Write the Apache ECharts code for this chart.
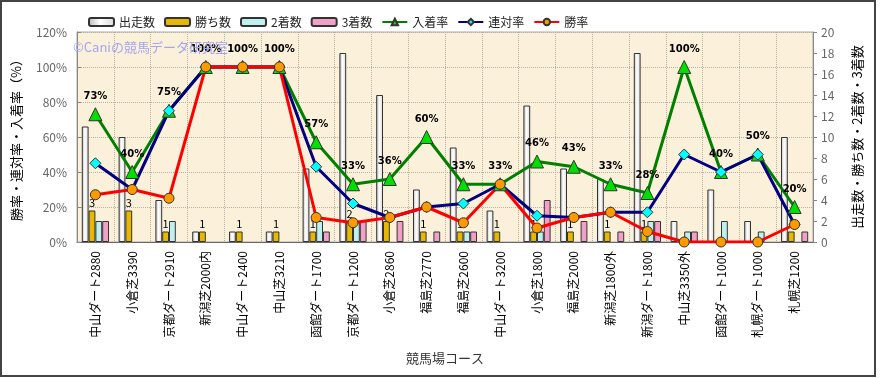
<!DOCTYPE html>
<html>
<head>
<meta charset="utf-8">
<title>競馬場コース別成績</title>
<script src="https://cdn.jsdelivr.net/npm/echarts@6/dist/echarts.min.js"></script>
<style>
  html, body { margin: 0; padding: 0; background: #fff; }
  #main { width: 881px; height: 378px; }
</style>
</head>
<body>
<div id="main"></div>
<script>
// コース名
var courses = ['中山ダート2880', '小倉芝3390', '京都ダート2910', '新潟芝2000内', '中山ダート2400',
  '中山芝3210', '函館ダート1700', '京都ダート1200', '小倉芝2860', '福島芝2770', '福島芝2600',
  '中山ダート3200', '小倉芝1800', '福島芝2000', '新潟芝1800外', '新潟ダート1800',
  '中山芝3350外', '函館ダート1000', '札幌ダート1000', '札幌芝1200'];
// counts (right axis)
var starts = [11, 10, 4, 1, 1, 1, 7, 18, 14, 5, 9, 3, 13, 7, 6, 18, 2, 5, 2, 10];
var wins   = [3, 3, 1, 1, 1, 1, 1, 2, 2, 1, 1, 1, 1, 1, 1, 1, 0, 0, 0, 1];
var second = [2, 0, 2, 0, 0, 0, 2, 2, 0, 0, 1, 0, 1, 0, 0, 2, 1, 2, 1, 0];
var third  = [2, 0, 0, 0, 0, 0, 1, 2, 2, 1, 1, 0, 4, 2, 1, 2, 1, 0, 0, 1];
// rates in % (left axis)
var placeRate = [73, 40, 75, 100, 100, 100, 57, 33, 36, 60, 33, 33, 46, 43, 33, 28, 100, 40, 50, 20];
var quinRate  = [45, 30, 75, 100, 100, 100, 43, 22, 14, 20, 22, 33, 15, 14, 17, 17, 50, 40, 50, 10];
var winRate   = [27, 30, 25, 100, 100, 100, 14, 11, 14, 20, 11, 33, 8, 14, 17, 6, 0, 0, 0, 10];

var font = '"Noto Sans CJK JP", "Noto Sans", sans-serif';
var chart = echarts.init(document.getElementById('main'));

function barSeries(name, data, color, withLabel) {
  return {
    name: name,
    type: 'bar',
    yAxisIndex: 1,
    // zero counts draw no bar at all
    data: data.map(function (v) { return v === 0 ? '-' : v; }),
    barWidth: 6.8,
    barGap: '0%',
    itemStyle: { color: color, borderColor: '#333', borderWidth: 1 },
    label: withLabel ? {
      show: true, position: 'top', distance: 2, color: '#000', fontSize: 11, fontFamily: font
    } : { show: false },
    z: 2
  };
}

function lineSeries(name, data, color, symbol, symColor, size, withLabel) {
  return {
    name: name,
    type: 'line',
    yAxisIndex: 0,
    data: data,
    symbol: symbol,
    symbolSize: size,
    lineStyle: { color: color, width: 3 },
    itemStyle: { color: symColor, borderColor: '#333', borderWidth: 1 },
    label: withLabel ? {
      show: true, position: 'top', distance: 6, color: '#000', fontSize: 10,
      fontWeight: 'bold', fontFamily: 'DejaVu Sans', formatter: '{c}%'
    } : { show: false },
    z: 5
  };
}

var whiteGrad = new echarts.graphic.LinearGradient(0, 0, 1, 0, [
  { offset: 0, color: '#b8b8b8' }, { offset: 0.45, color: '#ffffff' }, { offset: 1, color: '#d8d8d8' }
]);

var option = {
  animation: false,
  backgroundColor: '#fff',
  textStyle: { fontFamily: font },
  graphic: [
    { type: 'rect', shape: { x: 1, y: 1, width: 874, height: 375 },
      style: { fill: 'none', stroke: '#444', lineWidth: 2 }, z: 100 },
    { type: 'text', left: 73, top: 41,
      style: { text: '©Caniの競馬データ研究室', fill: '#a3a6f2', font: '13px ' + font }, z: 100 }
  ],
  legend: {
    left: 83, top: 11,
    itemWidth: 25, itemHeight: 8, itemGap: 9,
    textStyle: { fontSize: 12, color: '#222', fontFamily: font },
    data: ['出走数', '勝ち数', '2着数', '3着数', '入着率', '連対率', '勝率']
  },
  grid: {
    left: 77, right: 68, top: 32, bottom: 136,
    show: true, backgroundColor: '#fbf0d9', borderColor: '#aaa', borderWidth: 1
  },
  xAxis: {
    type: 'category',
    data: courses,
    name: '競馬場コース',
    nameLocation: 'middle',
    nameGap: 110,
    nameTextStyle: { fontSize: 13, color: '#333' },
    axisLine: { lineStyle: { color: '#666' } },
    axisTick: { show: false },
    splitLine: { show: true, lineStyle: { color: '#b8b0a0', type: 'dotted' } },
    axisLabel: { rotate: 90, fontSize: 12, color: '#000', margin: 9, interval: 0 }
  },
  yAxis: [{
    type: 'value',
    min: 0, max: 120, interval: 20,
    name: '勝率・連対率・入着率（%）',
    nameLocation: 'middle',
    nameGap: 54,
    nameTextStyle: { fontSize: 13, color: '#000' },
    axisLine: { show: true, lineStyle: { color: '#888' } },
    axisTick: { show: true, inside: true, length: 4 },
    axisLabel: { formatter: '{value}%', color: '#666', fontSize: 12, margin: 10 },
    splitLine: { show: true, lineStyle: { color: '#b8b0a0', type: 'dotted' } }
  }, {
    type: 'value',
    min: 0, max: 20, interval: 2,
    name: '出走数・勝ち数・2着数・3着数',
    nameLocation: 'middle',
    nameRotate: 90,
    nameGap: 38,
    nameTextStyle: { fontSize: 13, color: '#000' },
    axisLine: { show: true, lineStyle: { color: '#888' } },
    axisTick: { show: true, length: 4 },
    axisLabel: { color: '#666', fontSize: 12, margin: 8 },
    splitLine: { show: false }
  }],
  series: [
    barSeries('出走数', starts, whiteGrad, false),
    barSeries('勝ち数', wins, '#e8b800', true),
    barSeries('2着数', second, '#bff0f0', false),
    barSeries('3着数', third, '#f2a0c8', false),
    lineSeries('入着率', placeRate, '#008000', 'triangle', '#00e000', 13, true),
    lineSeries('連対率', quinRate, '#000080', 'diamond', '#00ffff', 11, false),
    lineSeries('勝率', winRate, '#ff0000', 'circle', '#ff9900', 10, false)
  ]
};
chart.setOption(option);
</script>
</body>
</html>
